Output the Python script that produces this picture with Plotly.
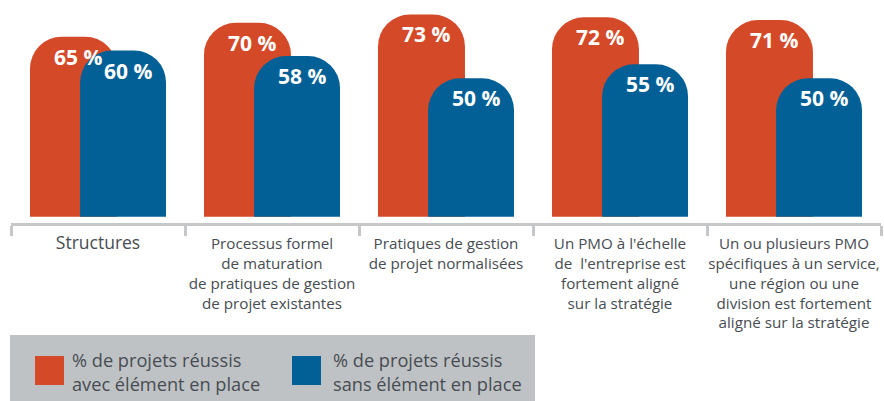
import plotly.graph_objects as go

# ---------------- data ----------------
categories = [
    "Structures",
    "Processus formel<br>de maturation<br>de pratiques de gestion<br>de projet existantes",
    "Pratiques de gestion<br>de projet normalisées",
    "Un PMO à l'échelle<br>de  l'entreprise est<br>fortement aligné<br>sur la stratégie",
    "Un ou plusieurs PMO<br>spécifiques à un service,<br>une région ou une<br>division est fortement<br>aligné sur la stratégie",
]
with_element = [65, 70, 73, 72, 71]
without_element = [60, 58, 50, 55, 50]
series_names = [
    "% de projets réussis<br>avec élément en place",
    "% de projets réussis<br>sans élément en place",
]

# ---------------- styles ----------------
RED = "#D44A29"
BLUE = "#036096"
TEXT = "#474C52"
AXIS = "#C6C7C9"
LEGEND_BG = "#BFC2C5"
FONT = "Open Sans"

PAGE_OFF = 0            # body margin removed by post_script below
W, H = 884 - PAGE_OFF, 401 - PAGE_OFF
PLOT_L, PLOT_R, PLOT_T, PLOT_B = 11, 881, 10, 223   # in window pixels
ML = PLOT_L - PAGE_OFF
MR = W - (PLOT_R - PAGE_OFF)
MT = PLOT_T - PAGE_OFF
MB = H - (PLOT_B - PAGE_OFF)
PW = W - ML - MR
PH = H - MT - MB
PX_PER_UNIT = 2.77
BASE_PX = 216.7
Y0 = -((PLOT_B - BASE_PX) / PX_PER_UNIT)
Y1 = Y0 + PH / PX_PER_UNIT
CAT_PX = PW / len(categories)

RED_OFF, RED_W = -0.391, 0.50
BLUE_OFF, BLUE_W = -0.103, 0.494

# the first category label is set a little larger in the original
x_labels = [f'<span style="font-size:17.5px">{c}</span>' if i == 0 else c
            for i, c in enumerate(categories)]

fig = go.Figure()
fig.add_trace(go.Bar(
    x=x_labels, y=with_element, name=series_names[0],
    offset=RED_OFF, width=RED_W,
    marker=dict(color=RED, line=dict(width=0), cornerradius=32),
    hoverinfo="skip",
))
fig.add_trace(go.Bar(
    x=x_labels, y=without_element, name=series_names[1],
    offset=BLUE_OFF, width=BLUE_W,
    marker=dict(color=BLUE, line=dict(width=0), cornerradius=32),
    hoverinfo="skip",
))

# value labels just inside the rounded tops
for vals, off, wd in ((with_element, RED_OFF, RED_W), (without_element, BLUE_OFF, BLUE_W)):
    for c, v in zip(x_labels, vals):
        fig.add_annotation(
            x=c, y=v, xref="x", yref="y", text=f"{v} %", showarrow=False,
            xanchor="center", yanchor="middle",
            xshift=(off + wd / 2) * CAT_PX + 5, yshift=-20,
            font=dict(family=FONT, size=21, color="white", weight="bold"),
        )

def px_x(p):
    return (p - PLOT_L) / PW

def px_y(p):
    return (PLOT_B - p) / PH

# manual legend
shapes = [dict(type="rect", xref="paper", yref="paper",
               x0=px_x(10), x1=px_x(535), y0=px_y(405), y1=px_y(335),
               fillcolor=LEGEND_BG, line=dict(width=0), layer="below")]
for (sx, tx), col, name in zip(((35, 70), (292, 331)), (RED, BLUE), series_names):
    shapes.append(dict(type="rect", xref="paper", yref="paper",
                       x0=px_x(sx), x1=px_x(sx + 29), y0=px_y(385), y1=px_y(356),
                       fillcolor=col, line=dict(width=0)))
    fig.add_annotation(x=px_x(tx), y=px_y(372), xref="paper", yref="paper",
                       text=name, showarrow=False, xanchor="left", yanchor="middle",
                       align="left", font=dict(family=FONT, size=18.2, color=TEXT))

fig.update_layout(
    width=W, height=H, margin=dict(l=ML, r=MR, t=MT, b=MB, pad=0),
    barmode="overlay", showlegend=False,
    paper_bgcolor="white", plot_bgcolor="white",
    font=dict(family=FONT, color=TEXT),
    shapes=shapes,
    xaxis=dict(type="category", range=[-0.5, len(categories) - 0.5],
               showline=True, linecolor=AXIS, linewidth=3,
               ticks="outside", tickson="boundaries", ticklen=10, tickwidth=3,
               tickcolor=AXIS, showgrid=False, zeroline=False,
               tickangle=0, automargin=False, ticklabelstandoff=5,
               tickfont=dict(family=FONT, size=15.2, color=TEXT)),
    yaxis=dict(range=[Y0, Y1], visible=False, showgrid=False, zeroline=False),
)

fig.write_html(
    "out.html",
    config={"displayModeBar": False, "staticPlot": True},
    post_script="document.body.style.margin='0';document.body.style.overflow='hidden';",
)
